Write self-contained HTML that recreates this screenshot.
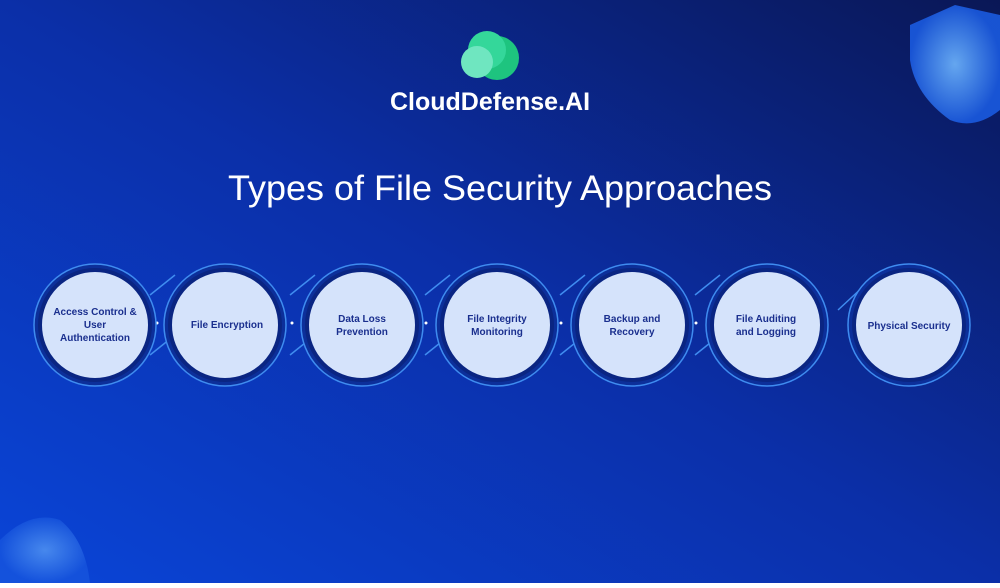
<!DOCTYPE html>
<html><head><style>
body{margin:0;width:1000px;height:583px;overflow:hidden;font-family:"Liberation Sans",sans-serif}
</style></head><body>
<svg width="1000" height="583" viewBox="0 0 1000 583" xmlns="http://www.w3.org/2000/svg">
<defs>
<linearGradient id="bg" x1="0" y1="1" x2="1" y2="0">
<stop offset="0" stop-color="#0a45d8"/>
<stop offset="0.5" stop-color="#0b2fa8"/>
<stop offset="1" stop-color="#0a1756"/>
</linearGradient>
<radialGradient id="sh" cx="0.5" cy="0.5" r="0.5"><stop offset="0" stop-color="#6fb6ff"/><stop offset="1" stop-color="#1a5ae0"/></radialGradient>
</defs>
<rect width="1000" height="583" fill="url(#bg)"/>
<path d="M910 25 L955 5 L1000 15 L1000 110 Q975 130 950 120 Q915 95 910 60Z" fill="url(#sh)" opacity="0.9"/>
<path d="M0 540 Q30 510 60 520 Q85 540 90 583 L0 583Z" fill="url(#sh)" opacity="0.6"/>
<circle cx="497" cy="58" r="22" fill="#1ec47f"/>
<circle cx="487" cy="50" r="19" fill="#34d79a"/>
<circle cx="477" cy="62" r="16" fill="#6fe6c0"/>
<text x="490" y="110" text-anchor="middle" fill="#fff" font-size="25" font-weight="bold">CloudDefense.AI</text>
<text x="500" y="200" text-anchor="middle" fill="#fff" font-size="35" textLength="544" lengthAdjust="spacingAndGlyphs">Types of File Security Approaches</text>
<g stroke="#3f8cf0" stroke-width="1.5" fill="none">
<path d="M150 295 L175 275"/><path d="M150 355 L175 335"/>
<path d="M290 295 L315 275"/><path d="M290 355 L315 335"/>
<path d="M425 295 L450 275"/><path d="M425 355 L450 335"/>
<path d="M560 295 L585 275"/><path d="M560 355 L585 335"/>
<path d="M695 295 L720 275"/><path d="M695 355 L720 335"/>
<path d="M838 310 L865 285"/>
</g>
<g fill="#fff">
<circle cx="157" cy="323" r="1.5"/><circle cx="168" cy="320" r="1.5"/>
<circle cx="292" cy="323" r="1.5"/><circle cx="304" cy="320" r="1.5"/>
<circle cx="426" cy="323" r="1.5"/><circle cx="438" cy="320" r="1.5"/>
<circle cx="561" cy="323" r="1.5"/><circle cx="573" cy="320" r="1.5"/>
<circle cx="696" cy="323" r="1.5"/><circle cx="708" cy="320" r="1.5"/>
</g>
<g stroke="#3f8cf0" stroke-width="1.5" fill="#0c2f9a">
<circle cx="95" cy="325" r="61"/><circle cx="225" cy="325" r="61"/><circle cx="362" cy="325" r="61"/>
<circle cx="497" cy="325" r="61"/><circle cx="632" cy="325" r="61"/><circle cx="767" cy="325" r="61"/><circle cx="909" cy="325" r="61"/>
</g>
<g fill="#d5e3fb" stroke="#0a2582" stroke-width="4">
<circle cx="95" cy="325" r="55"/><circle cx="225" cy="325" r="55"/><circle cx="362" cy="325" r="55"/>
<circle cx="497" cy="325" r="55"/><circle cx="632" cy="325" r="55"/><circle cx="767" cy="325" r="55"/><circle cx="909" cy="325" r="55"/>
</g>
<g fill="#1a2f8e" font-size="10" font-weight="bold" text-anchor="middle">
<text x="95" y="315">Access Control &amp;</text><text x="95" y="328">User</text><text x="95" y="341">Authentication</text>
<text x="227" y="328">File Encryption</text>
<text x="362" y="322">Data Loss</text><text x="362" y="335">Prevention</text>
<text x="497" y="322">File Integrity</text><text x="497" y="335">Monitoring</text>
<text x="632" y="322">Backup and</text><text x="632" y="335">Recovery</text>
<text x="766" y="322">File Auditing</text><text x="766" y="335">and Logging</text>
<text x="909" y="329">Physical Security</text>
</g>
</svg>
</body></html>
